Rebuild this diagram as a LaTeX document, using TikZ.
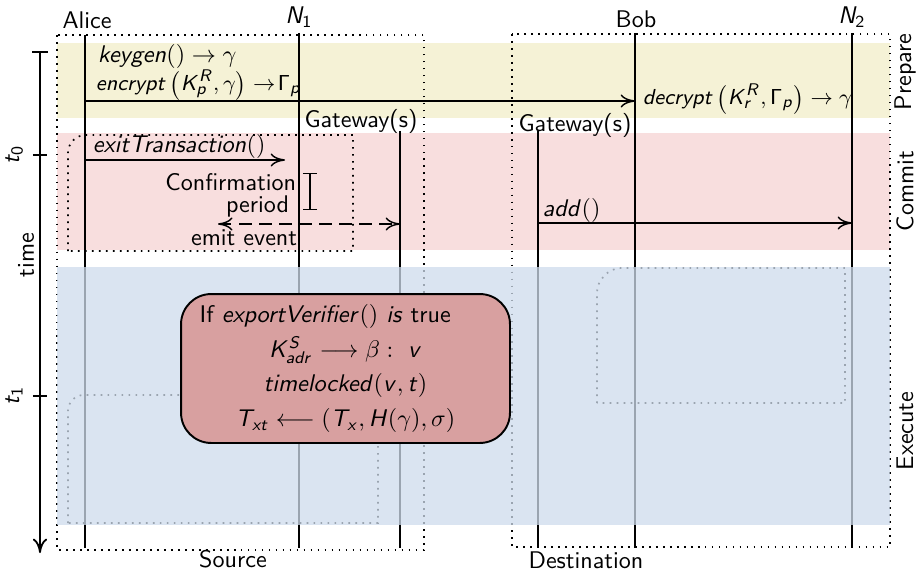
\documentclass[tikz,border=0pt]{standalone}
\usepackage{fontspec}
\usetikzlibrary{arrows.meta}

% sans serif math letters in the Computer Modern Sans style
\DeclareMathAlphabet{\mathsfit}{OT1}{cmss}{m}{sl}
\DeclareMathAlphabet{\mathsfup}{OT1}{cmss}{m}{n}
\newcommand{\mv}[1]{\mathsfit{#1}}

\definecolor{prepbg}{RGB}{245,242,214}
\definecolor{commitbg}{RGB}{248,222,222}
\definecolor{execbg}{RGB}{206,219,236}
\definecolor{condfill}{RGB}{216,160,160}

\begin{document}
\begin{tikzpicture}[x=0.415pt,y=-0.415pt,
  font=\sffamily,
  lifeline/.style={line width=0.75pt},
  msg/.style={line width=0.6pt,-{To[length=6pt,width=5.5pt]}},
  twoway/.style={line width=0.6pt,dash pattern=on 5pt off 3.3pt,{To[length=6pt,width=5.5pt]}-{To[length=6pt,width=5.5pt]}},
  dotbox/.style={line width=0.7pt,dash pattern=on 0.7pt off 2.2pt},
  band/.style={draw=none},
  msgtext/.style={inner sep=1pt},
  keytext/.style={inner sep=1pt,font=\sffamily\fontsize{9.4}{11}\selectfont},
  phase/.style={rotate=90,anchor=center},
  condbox/.style={draw,line width=0.8pt,fill=condfill,rounded corners=12.5pt,
    minimum width=136.5pt,minimum height=61.8pt,text width=121pt,inner sep=0pt}]

\useasboundingbox (0,0) rectangle (919,570);

% phase bands behind everything
\fill[prepbg,band] (57,43) rectangle (890,118);
\fill[commitbg,band] (57,133) rectangle (890,250);

% source and destination domains
\draw[dotbox] (57,35) rectangle (424,550);
\draw[dotbox] (512,34) rectangle (890,547);
\node (src) at (233,559) {Source};
\node (dst) at (586,560) {Destination};

% groupings inside the phases
\draw[dotbox] (68,251) -- (68,153) .. controls (68,143) and (76,135) .. (86,135) -- (353,135) -- (353,251) -- cycle;
\draw[dotbox] (68,523) -- (68,411) .. controls (68,402) and (75,395) .. (84,395) -- (378,395) -- (378,523) -- cycle;
\draw[dotbox] (597,403) -- (597,292) .. controls (597,281) and (608,268) .. (621,268) -- (845,268) -- (845,403) -- cycle;

% participants
\node (alice) at (87,20) {Alice};
\node (n1) at (299,17) {$\mv{N}_{\mathsfup{1}}$};
\node (bob) at (636,19) {Bob};
\node (n2) at (852,17) {$\mv{N}_{\mathsfup{2}}$};
\node (gws) at (361,121) {Gateway(s)};
\node (gwd) at (575,125) {Gateway(s)};

\coordinate (aliceT) at (85,35);  \coordinate (aliceB) at (85,548);
\coordinate (n1T) at (299,33);    \coordinate (n1B) at (299,548);
\coordinate (gwsT) at (400,131);  \coordinate (gwsB) at (400,548);
\coordinate (gwdT) at (538,131);  \coordinate (gwdB) at (538,548);
\coordinate (bobT) at (635,33);   \coordinate (bobB) at (635,548);
\coordinate (n2T) at (852,33);    \coordinate (n2B) at (852,548);

\foreach \p in {alice,n1,gws,gwd,bob,n2}
  \draw[lifeline] (\p T) -- (\p B);

% prepare
\node[msgtext,anchor=west] (keygen) at (95,56) {$\mv{keygen}() \rightarrow \gamma$};
\node[keytext,anchor=west] (encrypt) at (93,85) {$\mv{encrypt}\left(\mv{K}^{\mv{R}}_{\mv{p}},\gamma\right) \rightarrow\!\mathsfup{\Gamma}_{\mv{p}}$};
\coordinate (encA) at (85,101);
\coordinate (encB) at (635,101);
\draw[msg] (encA) -- (encB);
\node[keytext,anchor=west] (decrypt) at (640,99) {$\mv{decrypt}\left(\mv{K}^{\mv{R}}_{\mv{r}},\mathsfup{\Gamma}_{\mv{p}}\right) \rightarrow \gamma$};

% commit
\node[msgtext,anchor=west] (exit) at (90,146) {$\mv{exitTransaction}()$};
\coordinate (exA) at (85,160);
\coordinate (exB) at (285,160);
\draw[msg] (exA) -- (exB);

\node[anchor=east,inner sep=1pt] (conf) at (299,182) {Confirmation};
\node[anchor=east,inner sep=1pt] (period) at (292,206) {period};
\coordinate (cpT) at (310,173);
\coordinate (cpB) at (310,210);
\draw[line width=0.6pt,{Bar[width=6pt]}-{Bar[width=6pt]}] (cpT) -- (cpB);

\coordinate (evL) at (218,224);
\coordinate (evR) at (400,224);
\draw[twoway] (evL) -- (evR);
\node[anchor=east,inner sep=1pt] (emit) at (300,238) {emit event};

\node[msgtext,anchor=west] (add) at (540,210) {$\mv{add}()$};
\coordinate (addA) at (538,223);
\coordinate (addB) at (852,223);
\draw[msg] (addA) -- (addB);

% execute band lies over the lifelines
\fill[execbg,opacity=0.75] (57,267) rectangle (890,525);

\node[condbox] (cond) at (345.5,368.5) {%
  \fontsize{10}{14.5}\selectfont
  If $\mv{exportVerifier}()$ \textit{is} true\par
  \centering
  $\mv{K}^{\mv{S}}_{\mv{adr}} \longrightarrow \beta :\ \mv{v}$\\
  $\mv{timelocked}(\mv{v},\mv{t})$\\
  $\mv{T}_{\mv{x}\mv{t}} \longleftarrow (\mv{T}_{\mv{x}}, \mv{H}(\gamma), \sigma)$\par};

% phase names
\node[phase] (pprep) at (905,72) {Prepare};
\node[phase] (pcommit) at (905,191) {Commit};
\node[phase] (pexec) at (905,431) {Execute};

% time axis
\coordinate (tTop) at (40,51);
\coordinate (tBot) at (40,553);
\draw[line width=0.75pt,{Bar[width=6.5pt]}-{To[length=6pt,width=6pt]}] (tTop) -- (tBot);
\coordinate (t0) at (40,155);
\coordinate (t1) at (40,396);
\draw[line width=0.75pt] ([xshift=-3pt]t0) -- ([xshift=3pt]t0);
\draw[line width=0.75pt] ([xshift=-3pt]t1) -- ([xshift=3pt]t1);
\node[phase] (lt0) at (14,155) {$\mv{t}_{\mathsfup{0}}$};
\node[phase] (lt1) at (14,396) {$\mv{t}_{\mathsfup{1}}$};
\node[phase] (ltime) at (26,255) {time};

\end{tikzpicture}
\end{document}
